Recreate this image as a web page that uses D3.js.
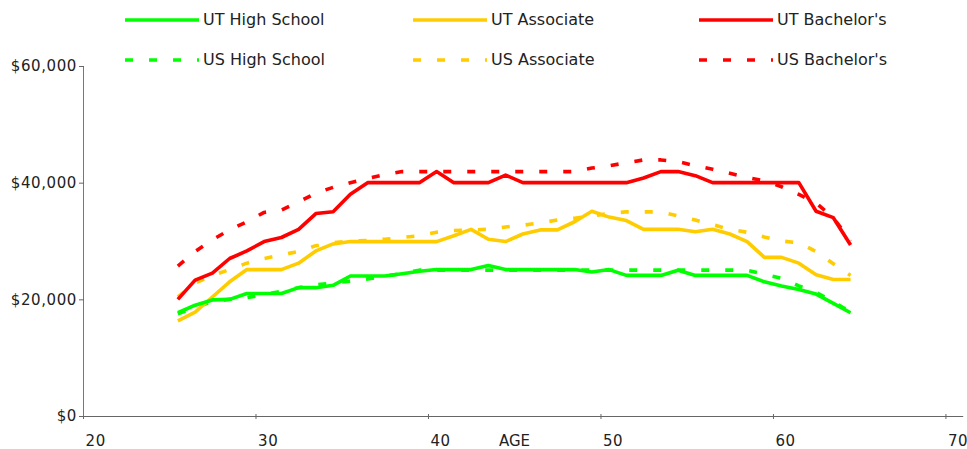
<!DOCTYPE html>
<html>
<head>
<meta charset="utf-8">
<script src="https://cdn.jsdelivr.net/npm/d3@7"></script>
<style>
    body { margin: 0; background: #fff; }
    text { font-family: 'DejaVu Sans', Verdana, sans-serif; fill: #222; }
</style>
</head>
<body>
<svg width="967" height="449"></svg>
<script>
// ages plotted (mid-year)
const ages = [25.5, 26.5, 27.5, 28.5, 29.5, 30.5, 31.5, 32.5, 33.5, 34.5,
    35.5, 36.5, 37.5, 38.5, 39.5, 40.5, 41.5, 42.5, 43.5, 44.5,
    45.5, 46.5, 47.5, 48.5, 49.5, 50.5, 51.5, 52.5, 53.5, 54.5,
    55.5, 56.5, 57.5, 58.5, 59.5, 60.5, 61.5, 62.5, 63.5, 64.5];

const utHighSchool = [17700, 19000, 19900, 20000, 21000, 21000, 21000, 22000, 22000, 22400,
    24000, 24000, 24000, 24400, 24800, 25100, 25100, 25100, 25800, 25100,
    25100, 25100, 25100, 25100, 24700, 25100, 24100, 24100, 24100, 25000,
    24100, 24100, 24100, 24100, 23000, 22300, 21700, 20900, 19300, 17700];
const utAssociate = [16300, 17800, 20400, 23000, 25100, 25100, 25100, 26200, 28300, 29500,
    29900, 29900, 29900, 29900, 29900, 29900, 30900, 32000, 30300, 29900,
    31200, 31900, 31900, 33300, 35100, 34100, 33500, 32000, 32000, 32000,
    31600, 32000, 31200, 29900, 27200, 27200, 26200, 24200, 23400, 23400];
const utBachelors = [20000, 23300, 24500, 27000, 28300, 29900, 30600, 32000, 34700, 35000,
    38000, 40000, 40000, 40000, 40000, 41900, 40000, 40000, 40000, 41300,
    40000, 40000, 40000, 40000, 40000, 40000, 40000, 40800, 41900, 41900,
    41200, 40000, 40000, 40000, 40000, 40000, 40000, 35100, 34000, 29300];
const usHighSchool = [17500, 18600, 19600, 20000, 20300, 20800, 21400, 22000, 22500, 22800,
    23100, 23500, 24000, 24400, 25000, 25000, 25000, 25000, 25000, 25000,
    25000, 25000, 25000, 25000, 25000, 25000, 25000, 25000, 25000, 25000,
    25000, 25000, 25000, 25000, 24300, 23600, 22300, 21200, 19600, 17800];
const usAssociate = [20400, 22800, 24100, 25100, 26200, 27000, 27600, 28200, 29200, 29700,
    30000, 30100, 30300, 30600, 30900, 31500, 31800, 31900, 32000, 32400,
    32700, 33100, 33600, 33900, 34300, 34700, 35000, 35000, 35000, 34300,
    33600, 32800, 32000, 31500, 30700, 30000, 29700, 28200, 26100, 24100];
const usBachelors = [25700, 28200, 30200, 31900, 33300, 34900, 35300, 36700, 38200, 39200,
    40000, 40700, 41400, 41900, 41900, 41900, 41900, 41900, 41900, 41900,
    41900, 41900, 41900, 41900, 42500, 42900, 43400, 43900, 43900, 43600,
    42900, 42300, 41600, 40900, 40300, 39300, 38000, 36500, 34000, 30000];

const xTicks = [20, 30, 40, 50, 60, 70];
const yTicks = [0, 20000, 40000, 60000];

const series = [
    { name: 'UT High School', values: utHighSchool, color: '#00ff00', dashed: false },
    { name: 'UT Associate', values: utAssociate, color: '#ffcc00', dashed: false },
    { name: "UT Bachelor's", values: utBachelors, color: '#ff0000', dashed: false },
    { name: 'US High School', values: usHighSchool, color: '#00ff00', dashed: true },
    { name: 'US Associate', values: usAssociate, color: '#ffcc00', dashed: true },
    { name: "US Bachelor's", values: usBachelors, color: '#ff0000', dashed: true },
];

const svg = d3.select('svg');
const x = d3.scaleLinear().domain([20, 71]).range([83, 962.7]);
const y = d3.scaleLinear().domain([0, 60000]).range([416, 66]);

// *** axes ***
const xAxis = svg.append('g')
    .attr('transform', `translate(0,${y(0)})`)
    .call(d3.axisBottom(x).tickValues(xTicks).tickSize(3).tickSizeOuter(0).tickFormat(d3.format('d')));
xAxis.select('.domain').attr('stroke', '#666');
xAxis.selectAll('.tick line').attr('y1', -2).attr('y2', 3).attr('stroke', '#666');
xAxis.selectAll('.tick text')
    .attr('text-anchor', 'start')
    .attr('x', 2)
    .attr('y', 30)
    .attr('dy', null)
    .style('font-size', '15px')
    .style('letter-spacing', '0.6px')
    .attr('fill', '#222');

const yAxis = svg.append('g')
    .attr('transform', `translate(${x(20)},0)`)
    .call(d3.axisLeft(y).tickValues(yTicks).tickSize(4).tickSizeOuter(0)
        .tickFormat(d => '$' + d3.format(',')(d)));
yAxis.select('.domain').attr('stroke', '#777');
yAxis.selectAll('.tick line').attr('x1', -4).attr('x2', 1).attr('stroke', '#666');
yAxis.selectAll('.tick text')
    .attr('x', -6)
    .style('font-size', '15px')
    .style('letter-spacing', '0.6px')
    .attr('fill', '#222');
svg.selectAll('.tick text').style('font-family', "'DejaVu Sans', Verdana, sans-serif");

svg.append('text')
    .attr('x', 499)
    .attr('y', 446)
    .style('font-size', '15px')
    .text('AGE');

// *** lines ***
const line = d3.line()
    .x((d, i) => x(ages[i]))
    .y(d => y(d));

// dashed first so the solid lines sit on top
series.slice().reverse().forEach(s => {
    svg.append('path')
        .datum(s.values)
        .attr('fill', 'none')
        .attr('stroke', s.color)
        .attr('stroke-width', 3.6)
        .attr('stroke-linejoin', 'round')
        .attr('stroke-dasharray', s.dashed ? '8,16' : null)
        .attr('d', line);
});

// *** legend ***
const legendCols = [125, 413, 699];
const legendRows = [20, 60];
const legend = svg.append('g');
series.forEach((s, i) => {
    const lx = legendCols[i % 3];
    const ly = legendRows[Math.floor(i / 3)];
    legend.append('line')
        .attr('x1', lx).attr('x2', lx + 74)
        .attr('y1', ly).attr('y2', ly)
        .attr('stroke', s.color)
        .attr('stroke-width', 3.6)
        .attr('stroke-dasharray', s.dashed ? '8,16' : null);
    legend.append('text')
        .attr('x', lx + 78)
        .attr('y', ly)
        .attr('dy', '0.3em')
        .style('font-size', '16px')
        .text(s.name);
});
</script>
</body>
</html>
